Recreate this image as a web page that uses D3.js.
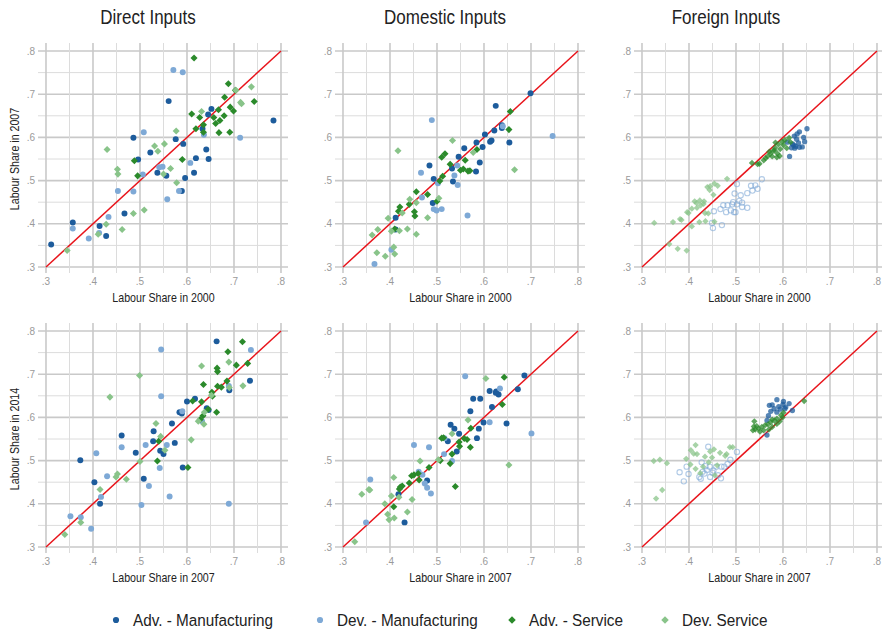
<!DOCTYPE html>
<html>
<head>
<meta charset="utf-8">
<script src="https://cdn.jsdelivr.net/npm/d3@7"></script>
<style>
  body { margin: 0; background: #fff; }
  svg text { font-family: "Liberation Sans", Arial, sans-serif; }
</style>
</head>
<body>
<svg width="882" height="631"></svg>
<script>
// ---- data: [labour share first year, labour share second year] ----
// Direct inputs, 2000 -> 2007
var dirA_advMfg = [[.311,.352],[.357,.403],[.414,.395],[.428,.372],[.467,.424],[.486,.599],[.496,.549],[.522,.565],[.537,.518],[.556,.511],[.561,.684],[.576,.596],[.592,.585],[.589,.476],[.596,.506],[.619,.552],[.615,.518],[.633,.620],[.641,.572],[.646,.550],[.645,.653],[.652,.666],[.784,.639]];
var dirA_devMfg = [[.357,.389],[.391,.366],[.413,.379],[.433,.416],[.453,.476],[.486,.475],[.508,.612],[.506,.514],[.541,.531],[.548,.532],[.558,.457],[.571,.756],[.591,.751],[.583,.476],[.607,.541],[.636,.606],[.713,.599]];
var dirA_advSvc = [[.615,.784],[.688,.724],[.703,.709],[.680,.693],[.692,.670],[.699,.661],[.743,.683],[.610,.654],[.627,.646],[.657,.646],[.667,.664],[.679,.650],[.661,.632],[.670,.639],[.619,.620],[.635,.612],[.668,.611],[.691,.612],[.635,.629],[.488,.546],[.495,.511],[.590,.549]];
var dirA_devSvc = [[.345,.338],[.411,.376],[.428,.399],[.462,.387],[.486,.424],[.509,.432],[.430,.572],[.452,.526],[.453,.515],[.531,.580],[.538,.568],[.552,.585],[.577,.615],[.565,.528],[.550,.515],[.578,.495],[.631,.660],[.704,.709],[.714,.681],[.737,.717],[.716,.678]];

// Domestic inputs, 2000 -> 2007
var domA_advMfg = [[.699,.702],[.625,.673],[.602,.607],[.622,.616],[.638,.622],[.638,.628],[.613,.590],[.616,.593],[.584,.588],[.597,.578],[.558,.575],[.546,.555],[.591,.542],[.583,.521],[.654,.588],[.532,.528],[.484,.535],[.493,.504],[.534,.498],[.491,.448],[.412,.414],[.412,.387]];
var domA_devMfg = [[.489,.640],[.746,.603],[.640,.626],[.466,.518],[.537,.512],[.544,.490],[.543,.535],[.468,.461],[.493,.434],[.499,.431],[.510,.434],[.565,.419],[.367,.307],[.403,.340],[.502,.494]];
var domA_advSvc = [[.656,.660],[.653,.618],[.585,.572],[.517,.562],[.510,.554],[.560,.547],[.528,.538],[.512,.510],[.506,.499],[.550,.524],[.556,.527],[.566,.522],[.570,.523],[.456,.474],[.480,.468],[.441,.445],[.452,.428],[.453,.418],[.500,.452],[.421,.439],[.418,.429],[.410,.388]];
var domA_devSvc = [[.417,.569],[.533,.593],[.577,.565],[.665,.525],[.442,.457],[.456,.449],[.480,.414],[.396,.413],[.374,.387],[.362,.374],[.403,.383],[.420,.384],[.437,.388],[.456,.376],[.426,.425],[.372,.333],[.390,.325],[.408,.346],[.410,.330],[.504,.459]];

// Foreign inputs, 2000 -> 2007
var forA_advMfg = [[.609,.589],[.623,.582],[.627,.579],[.629,.596],[.635,.613],[.624,.603],[.644,.600],[.651,.620],[.635,.577],[.614,.556],[.625,.575],[.620,.585],[.618,.576],[.633,.587],[.646,.590],[.641,.578],[.630,.608]];
var forA_devMfg = [[.449,.402],[.451,.390],[.470,.397],[.453,.429],[.467,.434],[.473,.443],[.482,.443],[.479,.427],[.489,.431],[.494,.450],[.496,.427],[.499,.427],[.497,.470],[.502,.492],[.507,.453],[.510,.466],[.513,.449],[.524,.471],[.532,.488],[.541,.489],[.546,.481],[.535,.477],[.524,.437],[.555,.503],[.492,.445],[.502,.445],[.513,.439]];
var forA_advSvc = [[.534,.541],[.546,.538],[.550,.539],[.559,.547],[.567,.556],[.573,.562],[.579,.569],[.583,.576],[.584,.588],[.588,.563],[.594,.573],[.601,.582],[.604,.594],[.613,.599],[.616,.589],[.593,.557],[.577,.556],[.563,.552],[.598,.590],[.590,.584],[.582,.570],[.571,.567],[.608,.575],[.587,.554]];
var forA_devSvc = [[.326,.402],[.366,.404],[.381,.411],[.384,.409],[.358,.353],[.376,.342],[.395,.338],[.396,.427],[.399,.425],[.406,.394],[.417,.437],[.416,.448],[.423,.454],[.425,.443],[.432,.452],[.434,.425],[.441,.424],[.439,.485],[.445,.487],[.454,.493],[.452,.467],[.481,.504],[.422,.404],[.431,.446],[.406,.435],[.444,.478],[.461,.488],[.412,.452],[.435,.406],[.454,.405]];

// Direct inputs, 2007 -> 2014
var dirB_advMfg = [[.373,.501],[.403,.450],[.415,.400],[.461,.558],[.491,.518],[.508,.458],[.528,.545],[.529,.568],[.543,.523],[.550,.515],[.568,.586],[.574,.541],[.584,.612],[.589,.609],[.591,.484],[.600,.637],[.617,.643],[.642,.621],[.646,.617],[.663,.776],[.690,.663],[.734,.685]];
var dirB_devMfg = [[.352,.371],[.374,.369],[.396,.342],[.407,.517],[.417,.416],[.430,.464],[.461,.531],[.512,.536],[.519,.441],[.503,.397],[.545,.757],[.545,.649],[.542,.483],[.557,.536],[.563,.417],[.590,.614],[.689,.400],[.736,.756],[.689,.673],[.632,.591]];
var dirB_advSvc = [[.718,.775],[.687,.752],[.664,.714],[.665,.706],[.705,.721],[.729,.725],[.685,.684],[.635,.676],[.673,.670],[.665,.672],[.653,.658],[.654,.649],[.612,.638],[.631,.636],[.645,.619],[.634,.604],[.628,.595],[.663,.612],[.537,.499],[.602,.484],[.540,.545]];
var dirB_devSvc = [[.340,.329],[.374,.357],[.415,.433],[.449,.462],[.452,.469],[.471,.457],[.436,.647],[.499,.697],[.500,.498],[.534,.586],[.544,.556],[.553,.524],[.609,.548],[.631,.719],[.689,.728],[.719,.673],[.652,.651],[.637,.612],[.636,.584],[.624,.591],[.690,.669]];

// Domestic inputs, 2007 -> 2014
var domB_advMfg = [[.686,.697],[.672,.665],[.612,.661],[.626,.660],[.631,.653],[.625,.657],[.577,.643],[.592,.643],[.617,.624],[.571,.614],[.529,.583],[.537,.574],[.547,.562],[.589,.574],[.599,.588],[.585,.552],[.648,.586],[.523,.545],[.542,.521],[.479,.454],[.418,.422],[.431,.357]];
var domB_devMfg = [[.560,.695],[.634,.667],[.612,.589],[.701,.563],[.451,.536],[.483,.531],[.516,.552],[.515,.515],[.461,.474],[.469,.467],[.474,.447],[.479,.437],[.487,.424],[.358,.456],[.349,.357],[.532,.499]];
var domB_advSvc = [[.643,.693],[.639,.630],[.572,.575],[.514,.553],[.510,.552],[.558,.551],[.564,.549],[.547,.543],[.548,.533],[.571,.531],[.532,.515],[.528,.493],[.507,.500],[.483,.484],[.460,.470],[.451,.467],[.446,.465],[.462,.455],[.441,.448],[.426,.441],[.422,.439],[.420,.434],[.408,.393],[.539,.440]];
var domB_devSvc = [[.604,.690],[.566,.594],[.532,.562],[.653,.490],[.464,.499],[.408,.461],[.403,.418],[.419,.415],[.447,.410],[.389,.400],[.340,.422],[.355,.433],[.357,.432],[.395,.376],[.398,.363],[.409,.367],[.437,.381],[.325,.312],[.503,.502]];

// Foreign inputs, 2007 -> 2014
var forB_advMfg = [[.587,.641],[.601,.637],[.613,.632],[.620,.616],[.571,.628],[.577,.629],[.581,.620],[.591,.625],[.606,.624],[.566,.593],[.569,.604],[.574,.614],[.594,.619],[.600,.630],[.566,.559],[.604,.620],[.587,.612]];
var forB_devMfg = [[.380,.473],[.389,.452],[.399,.469],[.395,.486],[.422,.462],[.425,.458],[.429,.474],[.433,.470],[.438,.478],[.441,.532],[.444,.486],[.450,.472],[.452,.477],[.458,.486],[.462,.466],[.468,.459],[.469,.486],[.475,.486],[.482,.492],[.488,.502],[.502,.520],[.427,.496],[.435,.487],[.445,.462]];
var forB_advSvc = [[.539,.591],[.536,.570],[.541,.572],[.548,.574],[.555,.578],[.562,.582],[.568,.584],[.574,.589],[.577,.595],[.582,.593],[.587,.597],[.596,.605],[.599,.600],[.645,.638],[.559,.570],[.544,.580],[.551,.567],[.577,.578],[.587,.585],[.601,.611],[.593,.591],[.570,.572],[.538,.579]];
var forB_devSvc = [[.325,.499],[.338,.502],[.353,.494],[.343,.432],[.330,.412],[.394,.504],[.404,.524],[.414,.536],[.410,.516],[.417,.515],[.434,.509],[.445,.521],[.453,.526],[.466,.518],[.477,.511],[.487,.531],[.493,.531],[.430,.486],[.442,.496],[.449,.507],[.455,.466],[.403,.491],[.414,.481],[.460,.489],[.480,.515],[.424,.471]];

var panelTitles = ["Direct Inputs", "Domestic Inputs", "Foreign Inputs"];
var xTitles = ["Labour Share in 2000", "Labour Share in 2007"];
var yTitles = ["Labour Share in 2007", "Labour Share in 2014"];
var groupNames = ["Adv. - Manufacturing", "Dev. - Manufacturing", "Adv. - Service", "Dev. Service"];
var groupColors = ["#1d5c9c", "#7ea9d6", "#2b8a2b", "#89c48a"];
var groupShapes = ["circle", "circle", "diamond", "diamond"];
var tickValues = [.3, .4, .5, .6, .7, .8];
var gridValues = [.3, .35, .4, .45, .5, .55, .6, .65, .7, .75, .8];

var panelData = [
  [dirA_advMfg, dirA_devMfg, dirA_advSvc, dirA_devSvc],
  [domA_advMfg, domA_devMfg, domA_advSvc, domA_devSvc],
  [forA_advMfg, forA_devMfg, forA_advSvc, forA_devSvc],
  [dirB_advMfg, dirB_devMfg, dirB_advSvc, dirB_devSvc],
  [domB_advMfg, domB_devMfg, domB_advSvc, domB_devSvc],
  [forB_advMfg, forB_devMfg, forB_advSvc, forB_devSvc]
];

// ---- layout ----
var svg = d3.select("svg");
var colX = [46, 343, 642];
var rowY = [51, 331];
var pw = 235, ph = 216;
var titleX = [148, 445, 726];

var circleSym = d3.symbol().type(d3.symbolCircle);
var squareSym = d3.symbol().type(d3.symbolSquare);

function marker(shape, size){
  return shape === "circle" ? circleSym.size(size)() : squareSym.size(size)();
}
//square turned 45 degrees gives the even diamond
function markerRot(shape){
  return shape === "circle" ? "" : " rotate(45)";
}

//narrow text: regular face squeezed sideways
function narrowText(sel, x, y, size, squeeze, anchor){
  return sel.append("text")
    .attr("transform", `translate(${x},${y}) scale(${squeeze},1)`)
    .attr("text-anchor", anchor)
    .attr("font-size", size)
    .attr("fill", "#222")
}

panelData.forEach(function(groups, i){
  var col = i % 3, row = Math.floor(i / 3);
  var foreign = col === 2;
  var x = d3.scaleLinear().domain([.3, .8]).range([colX[col], colX[col] + pw]);
  var y = d3.scaleLinear().domain([.3, .8]).range([rowY[row] + ph, rowY[row]]);
  var g = svg.append("g");

  //grid
  g.selectAll(".hgrid")
    .data(gridValues)
    .enter()
    .append("line")
      .attr("x1", x(.3) - 8).attr("x2", x(.8) + 7)
      .attr("y1", d=> y(d)).attr("y2", d=> y(d))
      .attr("stroke", (d, k)=> k % 2 ? "#dcdcdc" : "#c9c9c9")
      .attr("stroke-width", (d, k)=> k % 2 ? 1 : 1.6)
  g.selectAll(".vgrid")
    .data(gridValues)
    .enter()
    .append("line")
      .attr("y1", y(.8) - 8).attr("y2", y(.3) + 6)
      .attr("x1", d=> x(d)).attr("x2", d=> x(d))
      .attr("stroke", (d, k)=> k % 2 ? "#dcdcdc" : "#c9c9c9")
      .attr("stroke-width", (d, k)=> k % 2 ? 1 : 1.6)

  //tick labels
  g.selectAll(".ytick")
    .data(tickValues)
    .enter()
    .append("text")
      .attr("x", x(.3) - 11)
      .attr("y", d=> y(d) + 3.5)
      .attr("text-anchor", "end")
      .attr("font-size", 10)
      .attr("fill", "#9a9a9a")
      .text(d=> d3.format(".1f")(d).replace(/^0/, ""))
  g.selectAll(".xtick")
    .data(tickValues)
    .enter()
    .append("text")
      .attr("x", d=> x(d))
      .attr("y", y(.3) + 18)
      .attr("text-anchor", "middle")
      .attr("font-size", 10)
      .attr("fill", "#9a9a9a")
      .text(d=> d3.format(".1f")(d).replace(/^0/, ""))

  //45 degree line
  g.append("line")
    .attr("x1", x(.3)).attr("y1", y(.3))
    .attr("x2", x(.8)).attr("y2", y(.8))
    .attr("stroke", "#e8141b")
    .attr("stroke-width", 1.5)

  //points
  groups.forEach(function(pts, gi){
    var hollow = foreign && gi === 1;
    var size = groupShapes[gi] === "circle" ? (foreign ? 22 : 28) : (foreign ? 20 : 25);
    g.selectAll(".pt" + gi)
      .data(pts)
      .enter()
      .append("path")
        .attr("transform", d=> `translate(${x(d[0])},${y(d[1])})` + markerRot(groupShapes[gi]))
        .attr("d", marker(groupShapes[gi], size))
        .attr("fill", hollow ? "none" : groupColors[gi])
        .attr("stroke", hollow ? groupColors[gi] : "none")
        .attr("stroke-width", 1.1)
        .attr("opacity", foreign ? (hollow ? 0.6 : 0.75) : 1)
  })

  //axis titles
  narrowText(g, (x(.3) + x(.8)) / 2, y(.3) + 35, 13, 0.82, "middle")
    .text(xTitles[row])
  if(col === 0){
    g.append("text")
      .attr("transform", `translate(19, ${(y(.3) + y(.8)) / 2}) rotate(-90) scale(0.82,1)`)
      .attr("text-anchor", "middle")
      .attr("font-size", 13)
      .attr("fill", "#222")
      .text(yTitles[row])
  }
  if(row === 0){
    narrowText(svg, titleX[col], 24, 20, 0.85, "middle")
      .text(panelTitles[col])
  }
})

//legend
var legendX = [116, 320, 512, 665];
var legend = svg.selectAll(".legend")
  .data(groupNames)
  .enter()
  .append("g")
    .attr("transform", (d, i)=> `translate(${legendX[i]}, 620)`)
legend.append("path")
  .attr("d", (d, i)=> marker(groupShapes[i], groupShapes[i] === "circle" ? 30 : 28))
  .attr("transform", (d, i)=> markerRot(groupShapes[i]))
  .attr("fill", (d, i)=> groupColors[i])
legend.each(function(d){
  narrowText(d3.select(this), 17, 6, 17, 0.9, "start").text(d)
})
</script>
</body>
</html>
